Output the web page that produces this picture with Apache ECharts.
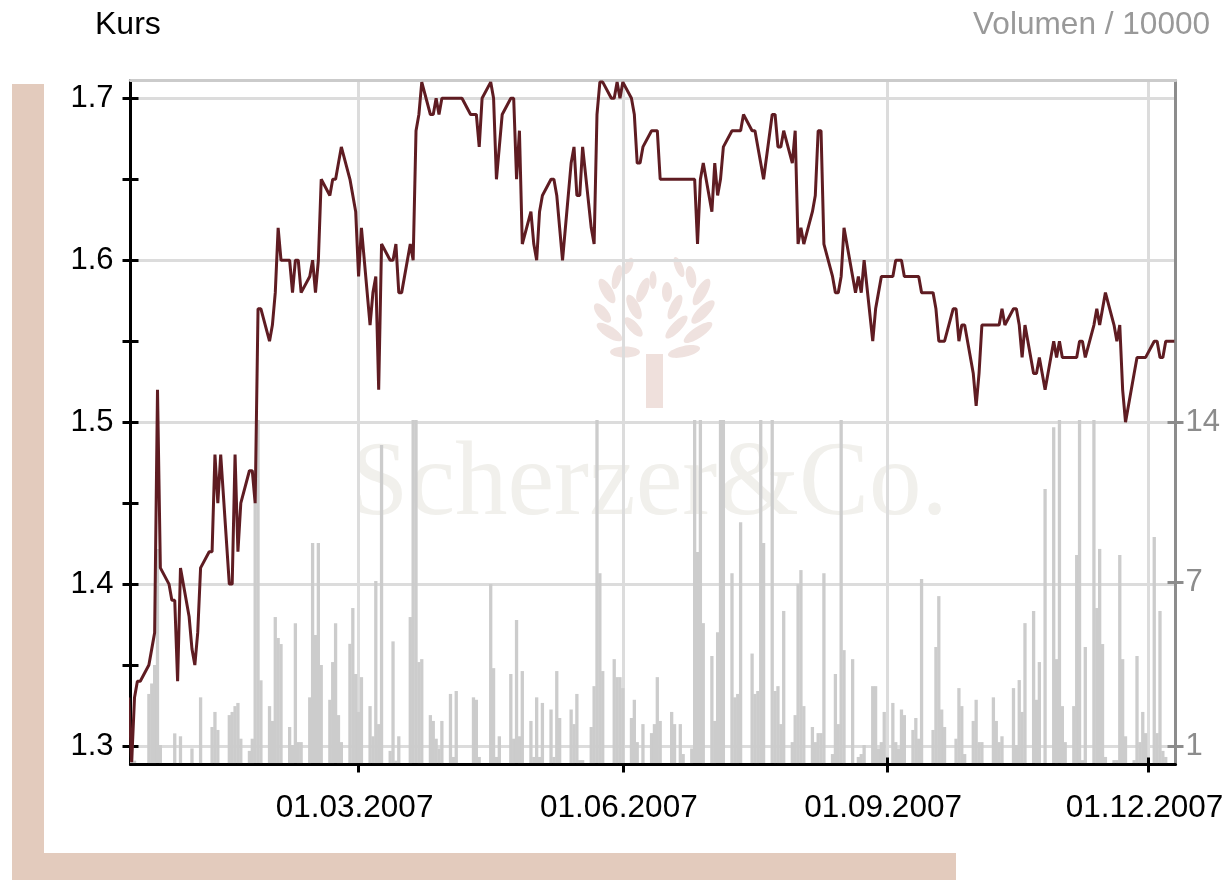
<!DOCTYPE html>
<html>
	<head>
		<meta charset="UTF-8">
		<title>Kurs / Volumen</title>
		<style>
			html, body { margin: 0; padding: 0; background: #fff; }
			#chart { width: 1229px; height: 880px; }
		</style>
	</head>
	<body>
		<div id="chart"></div>
		<script src="https://cdn.jsdelivr.net/npm/echarts@6/dist/echarts.min.js"></script>
		<script>
			// Kurs, one row per week (Mo-Fr), first Monday is 11.12.2006
			var prices = [
				1.33,1.29,1.33,1.34,1.34,
				1.35,1.36,1.37,1.52,1.41,
				1.40,1.39,1.39,1.34,1.41,
				1.38,1.36,1.35,1.37,1.41,
				1.42,1.42,1.48,1.45,1.48,
				1.40,1.40,1.48,1.42,1.45,
				1.47,1.47,1.45,1.57,1.57,
				1.55,1.56,1.58,1.62,1.60,
				1.60,1.58,1.60,1.60,1.58,
				1.59,1.60,1.58,1.60,1.65,
				1.64,1.65,1.65,1.66,1.67,
				1.65,1.64,1.63,1.59,1.62,
				1.56,1.58,1.59,1.52,1.61,
				1.60,1.60,1.61,1.58,1.58,
				1.61,1.60,1.68,1.69,1.71,
				1.69,1.69,1.70,1.69,1.70,
				1.70,1.70,1.70,1.70,1.70,
				1.69,1.69,1.69,1.67,1.70,
				1.71,1.70,1.65,1.67,1.69,
				1.70,1.70,1.65,1.68,1.61,
				1.63,1.61,1.60,1.63,1.64,
				1.65,1.65,1.64,1.62,1.60,
				1.66,1.67,1.64,1.64,1.67,
				1.62,1.61,1.69,1.71,1.71,
				1.70,1.70,1.71,1.70,1.71,
				1.70,1.69,1.66,1.66,1.67,
				1.68,1.68,1.68,1.65,1.65,
				1.65,1.65,1.65,1.65,1.65,
				1.65,1.65,1.61,1.65,1.66,
				1.63,1.66,1.64,1.65,1.67,
				1.68,1.68,1.68,1.68,1.69,
				1.68,1.68,1.67,1.66,1.65,
				1.69,1.69,1.67,1.67,1.68,
				1.66,1.68,1.61,1.62,1.61,
				1.63,1.64,1.68,1.68,1.61,
				1.59,1.58,1.58,1.59,1.62,
				1.59,1.58,1.59,1.58,1.60,
				1.55,1.57,1.58,1.59,1.59,
				1.59,1.60,1.60,1.60,1.59,
				1.59,1.59,1.59,1.58,1.58,
				1.58,1.57,1.55,1.55,1.55,
				1.57,1.57,1.55,1.56,1.56,
				1.53,1.51,1.53,1.56,1.56,
				1.56,1.56,1.56,1.57,1.56,
				1.57,1.57,1.56,1.54,1.56,
				1.53,1.53,1.54,1.53,1.52,
				1.55,1.54,1.55,1.54,1.54,
				1.54,1.54,1.55,1.55,1.54,
				1.56,1.57,1.56,1.57,1.58,
				1.56,1.55,1.56,1.52,1.50,
				1.53,1.54,1.54,1.54,1.54,
				1.55,1.55,1.54,1.54,1.55,
				1.55
			];

			// Volumen / 10000, same rows. 14.1 = bar runs into the top of the volume range
			var volumes = [
				0,1.2,0.1,0,0,
				2.84,3.27,4.03,8.8,0.74,
				0,0,1.22,0,1.1,
				0,0.6,0,0,2.7,
				0,1.48,2.1,1.36,0,
				1.97,2.1,2.34,2.47,1.0,
				0.5,1.0,10.7,14.1,3.4,
				2.34,1.73,6.0,5.14,4.89,
				1.48,0.74,5.75,0.86,0.86,
				2.7,9.04,5.26,9.04,4.03,
				2.6,4.15,5.75,1.97,0.86,
				4.9,6.37,3.66,2.1,3.53,
				2.34,1.1,7.48,1.6,13.07,
				0.5,5.0,0.1,1.1,0,
				6.0,14.1,14.1,4.15,4.27,
				1.97,1.73,1.0,0.6,1.73,
				2.84,0.25,2.96,0,0,
				0,2.7,2.6,0.25,0,
				7.35,3.9,0.25,1.1,0,
				3.66,1.0,5.88,1.1,3.78,
				1.73,0.25,2.7,0.25,2.47,
				2.2,0.25,3.78,1.85,0,
				2.2,1.6,2.84,0.12,0.12,
				1.48,3.16,14.1,7.8,3.78,
				0,4.27,3.53,3.53,3.08,
				1.85,2.6,0.86,0,1.6,
				1.23,1.6,3.53,1.73,0,
				2.1,1.6,0,1.6,0.37,
				0.6,14.1,8.67,14.1,5.75,
				4.4,1.73,5.38,14.1,14.1,
				7.8,2.7,2.84,9.9,0,
				4.5,2.84,2.96,14.1,9.04,
				14.1,2.96,3.16,1.6,6.25,
				0.86,1.97,7.35,7.93,2.34,
				1.48,0.86,1.23,1.23,7.8,
				0.37,3.66,1.6,14.1,4.64,
				4.27,0,0.25,0.37,0.74,
				3.16,3.16,0.6,0.86,2.1,
				2.47,0.86,0.6,2.2,1.97,
				1.36,1.85,1.0,7.56,0,
				1.36,4.77,6.86,2.2,1.48,
				0,1.0,3.08,2.34,0.37,
				1.73,2.6,0.86,0.86,0,
				2.7,1.73,0.86,1.1,0,
				3.08,0.74,3.41,2.1,5.75,
				6.25,2.6,4.15,0,11.26,
				13.8,4.27,14.1,2.34,0.86,
				2.34,8.55,14.1,0.12,4.77,
				14.1,6.37,8.8,4.89,0.25,
				0.12,0.12,8.55,4.27,1.1,
				0.12,4.4,0.86,2.1,1.23,
				9.29,1.23,6.25,0.5,0.25,
				0
			];

			var priceLabels = [1.3, 1.4, 1.5, 1.6, 1.7];
			var priceTicks = [1.3, 1.35, 1.4, 1.45, 1.5, 1.55, 1.6, 1.65, 1.7];
			// the right axis rounds its labels, the real tick values are not whole numbers
			var volumeTicks = [0.7, 7.43, 14];
			var dateTicks = [Date.UTC(2007, 2, 1), Date.UTC(2007, 5, 1), Date.UTC(2007, 8, 1), Date.UTC(2007, 11, 1)];
			var crossedDateTicks = [Date.UTC(2007, 8, 1), Date.UTC(2007, 11, 1)];

			var DAY = 86400000;
			var xMin = Date.UTC(2006, 11, 11) + 0.6 * DAY;
			var xMax = Date.UTC(2007, 11, 10) + 0.4 * DAY;

			// Werktage ab 11.12.2006
			var tradingDays = [];
			var day = Date.UTC(2006, 11, 11);
			while (tradingDays.length < prices.length) {
				var wd = new Date(day).getUTCDay();
				if (wd !== 0 && wd !== 6) {
					tradingDays.push(day);
				}
				day += DAY;
			}

			var priceData = [];
			var volumeData = [];
			for (var i = 0; i < tradingDays.length; i++) {
				priceData.push([tradingDays[i], prices[i]]);
				volumeData.push([tradingDays[i], volumes[i]]);
			}

			function pad(n) {
				return (n < 10 ? '0' : '') + n;
			}

			function formatDate(v) {
				var d = new Date(v);
				return pad(d.getUTCDate()) + '.' + pad(d.getUTCMonth() + 1) + '.' + d.getUTCFullYear();
			}

			var FONT = '"Liberation Sans", Arial, sans-serif';
			var PRICE_MIN = 1.2886, PRICE_MAX = 1.711;
			var VOL_MIN = -0.06, VOL_MAX = 28.05;

			// nur Striche, fuer die Seite der Achse die der Hauptachse fehlt
			function priceTickAxis(inside) {
				return {
					type: 'value', position: 'left', min: PRICE_MIN, max: PRICE_MAX,
					axisLine: { show: false },
					axisLabel: { show: false },
					splitLine: { show: false },
					axisTick: {
						show: true, inside: inside, length: 8, customValues: priceTicks,
						lineStyle: { color: '#000', width: 3 }
					}
				};
			}

			function volumeTickAxis() {
				return {
					type: 'value', position: 'right', min: VOL_MIN, max: VOL_MAX,
					axisLine: { show: false },
					axisLabel: { show: false },
					splitLine: { show: false },
					axisTick: {
						show: true, inside: true, length: 8, customValues: volumeTicks,
						lineStyle: { color: '#8c8c8c', width: 3 }
					}
				};
			}

			// Baum aus dem Logo, je Blatt x1, y1, x2, y2, Breite
			var logoLeaves = [
				[600, 279, 614, 303, 11], [614, 289, 620, 265, 9], [625, 274, 632, 258, 8],
				[595, 304, 610, 322, 11], [597, 324, 622, 340, 11], [610, 352, 640, 352, 11],
				[638, 302, 648, 278, 10], [628, 295, 640, 319, 11], [625, 318, 642, 336, 10],
				[653, 271, 653, 289, 7], [675, 257, 683, 277, 8], [689, 266, 693, 288, 10],
				[694, 305, 709, 279, 11], [667, 282, 667, 302, 10], [669, 319, 681, 295, 10],
				[666, 338, 687, 316, 10], [692, 323, 714, 301, 11], [684, 342, 712, 323, 11],
				[668, 355, 700, 348, 11]
			];

			var graphics = [
				{ type: 'rect', z: -1, shape: { x: 12, y: 84, width: 32, height: 796 }, style: { fill: '#e3cbbd' } },
				{ type: 'rect', z: -1, shape: { x: 44, y: 853, width: 912, height: 27 }, style: { fill: '#e3cbbd' } },
				{ type: 'rect', z: -1, shape: { x: 646, y: 354, width: 17, height: 54 }, style: { fill: '#efe0dc' } },
				{ type: 'text', z: -1, x: 350, y: 434, style: { text: 'Scherzer&Co.', fill: '#f1f0ec', font: '105px "Liberation Serif", serif' } },
				{ type: 'text', x: 95, y: 9, style: { text: 'Kurs', fill: '#000', font: '32px ' + FONT } },
				{ type: 'text', x: 973, y: 9, style: { text: 'Volumen / 10000', fill: '#999', font: '31.6px ' + FONT } }
			];
			for (var k = 0; k < logoLeaves.length; k++) {
				var lf = logoLeaves[k];
				var dx = lf[2] - lf[0], dy = lf[3] - lf[1];
				graphics.push({
					type: 'ellipse', z: -1,
					x: (lf[0] + lf[2]) / 2, y: (lf[1] + lf[3]) / 2,
					rotation: -Math.atan2(dy, dx),
					shape: { cx: 0, cy: 0, rx: Math.sqrt(dx * dx + dy * dy) / 2, ry: lf[4] / 2 },
					style: { fill: '#efe2df' }
				});
			}

			var chart = echarts.init(document.getElementById('chart'));

			var option = {
				animation: false,
				backgroundColor: '#fff',
				graphic: graphics,
				grid: { left: 130.5, top: 80.5, width: 1045, height: 684, containLabel: false },
				xAxis: [
					{
						type: 'value', min: xMin, max: xMax, position: 'bottom',
						axisLine: { onZero: false, lineStyle: { color: '#000', width: 3 } },
						axisTick: { show: true, length: 8, customValues: dateTicks, lineStyle: { color: '#000', width: 3 } },
						axisLabel: {
							customValues: dateTicks, margin: 28, color: '#000', fontSize: 31.5, fontFamily: FONT,
							hideOverlap: false, padding: [0, 8, 0, 0], formatter: formatDate
						},
						splitLine: { show: true, lineStyle: { color: '#dcdcdc', width: 3 } }
					},
					{
						// obere Begrenzung
						type: 'value', min: xMin, max: xMax, position: 'top',
						axisLine: { onZero: false, lineStyle: { color: '#cbcbcb', width: 3 } },
						axisTick: { show: false },
						axisLabel: { show: false },
						splitLine: { show: false }
					},
					{
						// 01.09. und 01.12. haben den Strich auf beiden Seiten
						type: 'value', min: xMin, max: xMax, position: 'bottom', z: 5,
						axisLine: { show: false, onZero: false },
						axisTick: { show: true, inside: true, length: 7, customValues: crossedDateTicks, lineStyle: { color: '#000', width: 3 } },
						axisLabel: { show: false },
						splitLine: { show: false }
					}
				],
				yAxis: [
					{
						type: 'value', position: 'left', min: PRICE_MIN, max: PRICE_MAX,
						axisLine: { show: true, onZero: false, lineStyle: { color: '#000', width: 3 } },
						axisTick: { show: false, customValues: priceLabels },
						axisLabel: {
							customValues: priceLabels, margin: 17, color: '#000', fontSize: 31, fontFamily: FONT,
							padding: [4, 0, 0, 0],
							formatter: function (v) { return v.toFixed(1); }
						},
						splitLine: { show: true, lineStyle: { color: '#dcdcdc', width: 3 } }
					},
					{
						type: 'value', position: 'right', min: VOL_MIN, max: VOL_MAX,
						axisLine: { show: true, onZero: false, lineStyle: { color: '#8c8c8c', width: 3 } },
						axisTick: { show: true, length: 8, customValues: volumeTicks, lineStyle: { color: '#8c8c8c', width: 3 } },
						axisLabel: {
							customValues: volumeTicks, margin: 10, color: '#8c8c8c', fontSize: 31, fontFamily: FONT,
							padding: [4, 0, 0, 0],
							formatter: function (v) { return String(Math.round(v)); }
						},
						splitLine: { show: false }
					},
					priceTickAxis(false),
					priceTickAxis(true),
					volumeTickAxis()
				],
				series: [
					{
						name: 'Volumen',
						type: 'bar',
						xAxisIndex: 0,
						yAxisIndex: 1,
						barWidth: 3.3,
						itemStyle: { color: '#cccccc' },
						data: volumeData,
						z: 2
					},
					{
						name: 'Kurs',
						type: 'line',
						xAxisIndex: 0,
						yAxisIndex: 0,
						showSymbol: false,
						lineStyle: { color: '#5f1c22', width: 3, join: 'bevel' },
						data: priceData,
						z: 3
					}
				]
			};

			chart.setOption(option);
		</script>
	</body>
</html>
